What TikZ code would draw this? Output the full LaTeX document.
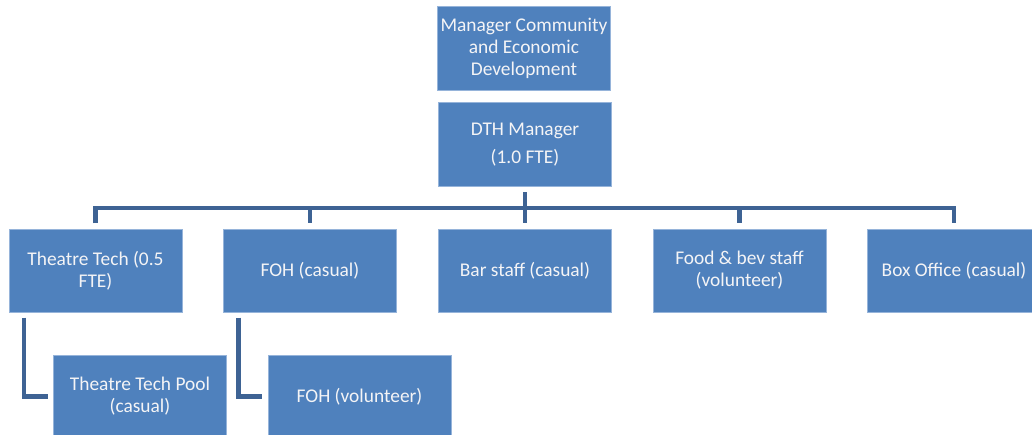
\documentclass[tikz,border=0pt]{standalone}
\usepackage{fontspec}
\setmainfont{Carlito}
\definecolor{unitblue}{RGB}{79,129,189}
\definecolor{unitedge}{RGB}{150,180,218}
\definecolor{unittext}{RGB}{244,244,246}
\definecolor{linkblue}{RGB}{62,99,148}

\begin{document}
\begin{tikzpicture}[x=0.025cm,y=-0.025cm,
	unit/.style={draw=unitedge,line width=0.6pt,fill=unitblue,text=unittext,align=center,
		minimum width=4.325cm,minimum height=2.075cm,inner sep=2pt,
		font=\fontsize{13.8}{15.6}\selectfont},
	link/.style={draw=linkblue,line width=3.2pt,shorten <=0.13cm,shorten >=0.13cm}]
				\useasboundingbox (0,0) rectangle (1032,434);
				\node[unit,minimum height=2.1cm] (mced) at (524,48) {Manager Community\\and Economic\\Development};
				\node[unit,minimum height=2.1cm] (dth) at (525,144.5) {DTH Manager\\[4.5pt](1.0 FTE)};
				\node[unit] (tech) at (95.5,270.5) {Theatre Tech (0.5\\FTE)};
				\node[unit] (foh) at (310,270.5) {FOH (casual)};
				\node[unit] (bar) at (525,270.5) {Bar staff (casual)};
				\node[unit] (food) at (739.5,270.5) {Food \& bev staff\\(volunteer)};
				\node[unit] (boxoff) at (954,270.5) {Box Office (casual)};
				\node[unit] (pool) at (140,396.5) {Theatre Tech Pool\\(casual)};
				\node[unit,minimum width=4.575cm] (fohvol) at (359.5,396.5) {FOH (volunteer)};
				\coordinate (bus) at (525,208);
				\draw[link] (dth) -- (bar);
				\draw[link] (tech) |- (bus) -| (boxoff);
				\draw[link,shorten <=0pt] (bus -| foh) -- (foh);
				\draw[link,shorten <=0pt] (bus -| food) -- (food);
				\draw[link] ([xshift=0.39cm]tech.south west) |- (pool);
				\draw[link] ([xshift=0.39cm]foh.south west) |- (fohvol);
			\end{tikzpicture}
\end{document}
